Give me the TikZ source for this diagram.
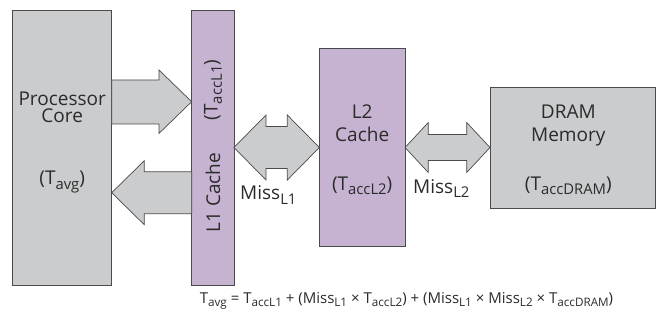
\documentclass[tikz,border=0pt]{standalone}
\usepackage{fontspec}
\setmainfont{Open Sans}
\usepackage{graphicx}
\newcommand{\subt}[1]{\raisebox{-0.22em}{\scalebox{0.78}{#1}}}
\definecolor{boxgray}{HTML}{CBCCCE}
\definecolor{boxpurple}{HTML}{C6B3D1}
\definecolor{edgecol}{HTML}{4A4A4A}
\definecolor{txt}{HTML}{2B2B2B}
\begin{document}
\begin{tikzpicture}[x=1pt,y=-1pt,
  blk/.style={draw=edgecol,line width=0.8pt,inner sep=0pt,outer sep=0pt},
  grayblk/.style={blk,fill=boxgray},
  purpblk/.style={blk,fill=boxpurple},
  barrow/.style={draw=edgecol,line width=0.7pt,fill=boxgray,line join=miter},
  lbl/.style={font=\fontsize{19}{22}\selectfont,text=txt,inner sep=0pt,anchor=base},
  twolbl/.style={font=\fontsize{19}{#1}\selectfont,text=txt,inner sep=0pt,align=center,anchor=base},
  rlbl/.style={font=\fontsize{19}{22}\selectfont,text=txt,inner sep=0pt,rotate=90},
  flbl/.style={font=\fontsize{15}{18}\selectfont,text=txt,inner sep=0pt,anchor=base}]
\useasboundingbox (0,0) rectangle (656,326);
% boxes
\node[grayblk,minimum width=99pt,minimum height=275.5pt] (proc) at (62.2,147.8) {};
\node[purpblk,minimum width=42.3pt,minimum height=275.3pt] (l1) at (212.8,147.7) {};
\node[purpblk,minimum width=85.7pt,minimum height=198.4pt] (l2) at (362.2,147.5) {};
\node[grayblk,minimum width=165pt,minimum height=121pt] (dram) at (572.5,147.8) {};
% processor -> L1
\draw[barrow] (proc.east |- 0,80) -- (159,80) -- (159,70) -- (l1.west |- 0,101.7)
  -- (159,133.4) -- (159,124) -- (proc.east |- 0,124) -- cycle;
% L1 -> processor
\draw[barrow] (l1.west |- 0,171.7) -- (144.3,171.7) -- (144.3,160.7) -- (proc.east |- 0,192.7)
  -- (144.3,224.7) -- (144.3,213.7) -- (l1.west |- 0,213.7) -- cycle;
% L1 <-> L2
\draw[barrow] (l1.east |- 0,147.5) -- (266,115) -- (266,126.5) -- (287.3,126.5) -- (287.3,115)
  -- (l2.west |- 0,147.5) -- (287.3,180) -- (287.3,168.5) -- (266,168.5) -- (266,180) -- cycle;
% L2 <-> DRAM
\draw[barrow] (l2.east |- 0,147.5) -- (428.3,122.5) -- (428.3,134.5) -- (466.7,134.5) -- (466.7,122.5)
  -- (dram.west |- 0,147.5) -- (466.7,172.5) -- (466.7,160.5) -- (428.3,160.5) -- (428.3,172.5) -- cycle;
% labels
\node[twolbl=17pt] (procA) at (62.2,122.5) {Processor\\Core};
\node[lbl] (procC) at (62.2,185) {(T\subt{avg})};
\node[rlbl] (l1A) at (213,192.5) {L1 Cache};
\node[rlbl] (l1B) at (213,90) {(T\subt{accL1})};
\node[lbl,anchor=base west] (m1) at (240,200) {Miss\subt{L1}};
\node[twolbl=23.4pt] (l2A) at (362.2,141.7) {L2\\Cache};
\node[lbl] (l2C) at (362.2,190) {(T\subt{accL2})};
\node[lbl,anchor=base west] (m2) at (413,193.3) {Miss\subt{L2}};
\node[twolbl=23.4pt] (drA) at (568.3,141.7) {DRAM\\Memory};
\node[lbl] (drC) at (568.3,190) {(T\subt{accDRAM})};
\node[flbl] (formula) at (406.5,303.3) {T\subt{avg} = T\subt{accL1} + (Miss\subt{L1} × T\subt{accL2}) + (Miss\subt{L1} × Miss\subt{L2} × T\subt{accDRAM})};
\end{tikzpicture}
\end{document}
